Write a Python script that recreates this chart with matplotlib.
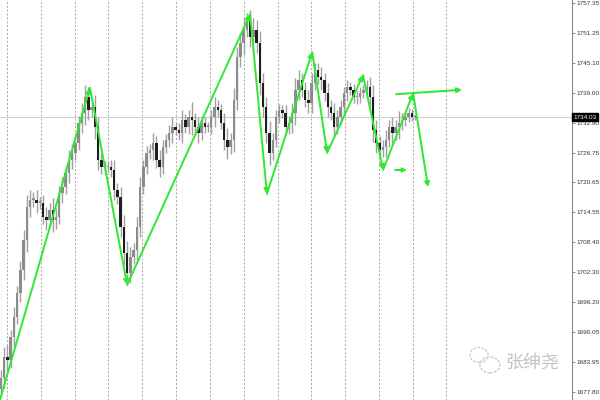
import matplotlib
matplotlib.use('Agg')
import matplotlib.pyplot as plt
from matplotlib.patches import Ellipse

# closing prices left to right
closes = [1680.7, 1685.0, 1684.3, 1689.0, 1693.1, 1698.0, 1702.7, 1708.9, 1715.6, 1717.1,
          1717.1, 1716.5, 1716.5, 1713.6, 1713.0, 1715.0, 1713.0, 1713.6, 1718.5, 1719.7,
          1722.6, 1725.2, 1726.7, 1728.7, 1732.8, 1734.9, 1738.1, 1735.5, 1736.1, 1732.0,
          1725.2, 1723.8, 1723.8, 1723.8, 1723.2, 1719.1, 1717.7, 1711.5, 1706.2, 1702.1,
          1705.4, 1706.8, 1711.5, 1719.7, 1723.8,
          1726.7, 1727.3, 1728.7, 1725.2, 1723.8, 1727.9, 1729.3, 1730.8, 1732.0, 1731.4,
          1730.8, 1733.4, 1732.0, 1734.0, 1733.4, 1732.0, 1730.8, 1732.8, 1732.0, 1732.0,
          1734.0, 1736.1, 1735.5, 1732.8, 1729.3, 1727.9, 1729.3, 1737.5, 1746.3, 1749.2,
          1751.8, 1753.9, 1750.4, 1751.8, 1749.2, 1741.0, 1736.1, 1730.8, 1726.7, 1729.3,
          1734.0, 1735.5, 1734.9,
          1732.0, 1732.8, 1734.9, 1739.6, 1741.6, 1739.6, 1737.5, 1736.9, 1741.0, 1743.6,
          1742.2, 1741.6, 1738.9, 1736.1, 1734.9, 1732.0, 1734.0, 1736.1, 1738.9, 1740.2,
          1739.6, 1738.1, 1738.1, 1738.9, 1739.6, 1740.2, 1738.1, 1731.4, 1728.7, 1727.3,
          1727.9, 1729.3, 1732.0, 1730.8, 1732.0, 1732.8, 1733.4, 1734.0, 1734.9, 1734.0,
          1734.03]
first_open = 1678.5

# wick length beyond the body, per bar
wicks = [1.5, 2.0, 2.5, 1.5, 2.0, 1.5, 1.8, 2.0, 2.5, 2.0,
         1.5, 2.0, 1.2, 1.5, 2.0, 1.5, 2.5, 1.8, 1.5, 2.0,
         1.5, 2.0, 1.8, 1.5, 1.5, 2.0, 2.5, 2.0, 1.5, 2.5,
         2.0, 1.5, 1.2, 1.0, 1.5, 2.0, 1.5, 2.0, 2.5, 2.5,
         2.0, 1.5, 2.0, 2.0, 1.5,
         1.5, 1.2, 2.0, 1.5, 2.0, 1.5, 1.2, 1.5, 2.0, 1.0,
         1.5, 2.0, 1.2, 1.5, 3.0, 1.5, 2.0, 1.5, 1.2, 1.0,
         1.5, 2.0, 1.5, 1.2, 2.0, 2.5, 1.5, 2.5, 2.0, 2.0,
         2.5, 1.5, 2.0, 2.5, 2.0, 2.5, 2.0, 2.0, 2.5, 1.5,
         1.5, 1.2, 1.0,
         1.5, 1.5, 2.0, 2.5, 2.0, 1.5, 1.5, 2.0, 2.0, 1.5,
         1.5, 2.0, 1.5, 2.0, 1.5, 2.0, 1.5, 1.5, 1.2, 1.5,
         1.0, 1.2, 1.5, 1.2, 1.0, 1.5, 2.0, 2.5, 2.0, 1.5,
         1.5, 2.0, 1.5, 2.0, 1.5, 2.5, 1.5, 1.2, 1.0, 0.8,
         0.6]

# hand-drawn zigzag (bar index, price)
zz_x = [-0.3, 27.5, 39.0, 77.0, 82.2, 96.2, 100.8, 111.9, 118.1, 127.4, 132.0]
zz_y = [1676.2, 1740.0, 1699.7, 1755.1, 1718.3, 1747.3, 1726.7, 1742.6, 1723.2, 1738.9, 1719.7]
hline_x = [122.1, 142.5]
hline_y = [1738.7, 1739.6]
short_x = [121.8, 125.5]
short_y = [1723.2, 1723.2]

grid_x = [1.9, 12.3, 22.8, 33.2, 43.7, 54.1, 64.6, 75.0, 85.5, 95.9, 106.4, 116.8, 127.3, 137.7]
price_ticks = [1757.35, 1751.25, 1745.10, 1739.00, 1732.90, 1726.75, 1720.65,
               1714.55, 1708.40, 1702.30, 1696.20, 1690.05, 1683.95, 1677.80]
last_price = 1734.03

fig = plt.figure(figsize=(6, 4), dpi=100)
ax = fig.add_axes([0, 0, 572 / 600, 1])

for gx in grid_x:
    ax.axvline(gx, color='#a8a8a8', lw=0.7, ls=(0, (2, 2)), zorder=0)
ax.axhline(last_price, color='#d0d0d0', lw=0.8, zorder=1)

opens = [first_open] + closes[:-1]
for i, (o, c, w) in enumerate(zip(opens, closes, wicks)):
    hi = max(o, c) + w
    lo = min(o, c) - w
    ax.vlines(i, lo, hi, color='#a0a0a0', lw=1.0, zorder=2)
    col = '#8c8c8c' if c >= o else '#1e1e1e'
    ax.bar(i, max(abs(c - o), 0.3), bottom=min(o, c), width=0.75, color=col, lw=0, zorder=3)

green = '#2fe82f'
arrow = dict(arrowstyle='-|>', color=green, lw=1.4, mutation_scale=7, shrinkA=0, shrinkB=0)
for k in range(len(zz_x) - 1):
    ax.annotate('', xy=(zz_x[k + 1], zz_y[k + 1]), xytext=(zz_x[k], zz_y[k]),
                arrowprops=arrow, zorder=5)
ax.annotate('', xy=(hline_x[1], hline_y[1]), xytext=(hline_x[0], hline_y[0]),
            arrowprops=arrow, zorder=5)
ax.annotate('', xy=(short_x[1], short_y[1]), xytext=(short_x[0], short_y[0]),
            arrowprops=dict(arrow, mutation_scale=6), zorder=5)

ax.set_xlim(-0.31, 176.5)
ax.set_ylim(1676.16, 1757.96)
ax.set_xticks([])
ax.yaxis.tick_right()
ax.set_yticks(price_ticks)
ax.set_yticklabels(['%.2f' % p for p in price_ticks], family='Liberation Sans')
ax.tick_params(axis='y', labelsize=4.6, labelcolor='#333333', color='#777777',
               length=2, width=0.6, pad=1.2)
for s in ['top', 'left', 'bottom']:
    ax.spines[s].set_visible(False)
ax.spines['right'].set_color('#888888')
ax.spines['right'].set_linewidth(0.8)

ax.text(1.003, last_price, '%.2f' % last_price, transform=ax.get_yaxis_transform(),
        fontsize=4.6, family='Liberation Sans', color='white', va='center', ha='left',
        bbox=dict(boxstyle='square,pad=0.2', fc='black', ec='black'))

# watermark
fig.text(0.888, 0.093, '张绅尧', fontsize=13, color='#c4c4c4', ha='center', va='center',
         family=['Noto Sans CJK SC', 'DejaVu Sans'])
fig.patches.append(Ellipse((479 / 600, 1 - 355 / 400), 18 / 600, 15 / 400, transform=fig.transFigure,
                           fill=False, ec='#cccccc', lw=1.0, ls=(0, (2, 1))))
fig.patches.append(Ellipse((490 / 600, 1 - 365 / 400), 20 / 600, 16 / 400, transform=fig.transFigure,
                           fill=False, ec='#cccccc', lw=1.0, ls=(0, (2, 1))))

fig.savefig('out.png', dpi=100)
